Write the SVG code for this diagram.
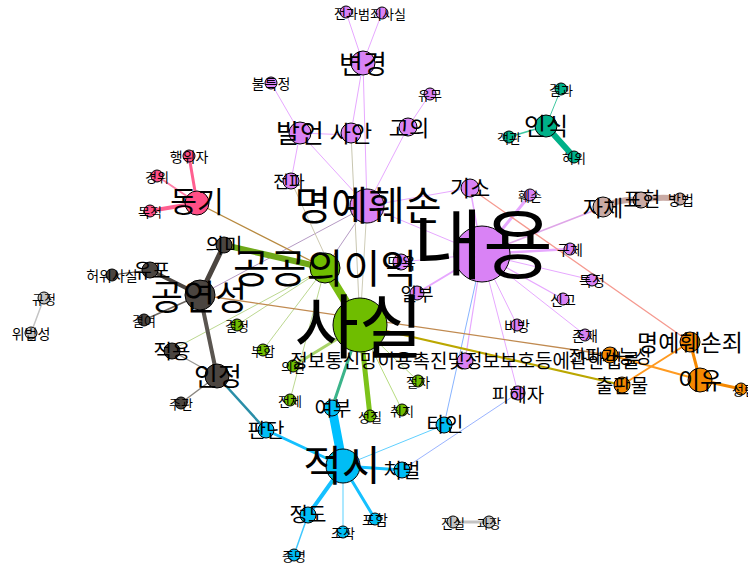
<svg xmlns="http://www.w3.org/2000/svg" width="748" height="566" viewBox="0 0 748 566">
<style>
text{font-family:"Noto Sans CJK KR","Noto Sans",sans-serif;fill:#000;text-anchor:middle;dominant-baseline:central}
circle{stroke:#000;stroke-width:1}
.p{fill:#d982f5}.g{fill:#6fbd00}.c{fill:#00bdf5}.d{fill:#4b4540}.k{fill:#ff4f86}.t{fill:#00b088}.n{fill:#c9aaa4}.o{fill:#f58800}.y{fill:#c4c4c4}
#edges line,#edges path{fill:none;stroke-linecap:round}
.ep{stroke:#e7a8ff}
.s6{font-size:13px}.s7{font-size:14px}
</style>
<rect width="748" height="566" fill="#fff"/>
<g id="edges">
<line class="ep" x1="346" y1="12" x2="363" y2="63" stroke-width="1"/>
<line class="ep" x1="382" y1="13" x2="363" y2="63" stroke-width="1"/>
<line class="ep" x1="363" y1="63" x2="351" y2="133" stroke-width="1"/>
<line class="ep" x1="363" y1="63" x2="367" y2="206" stroke-width="1"/>
<line class="ep" x1="271" y1="83" x2="300" y2="133" stroke-width="1"/>
<line class="ep" x1="430" y1="94" x2="408" y2="127" stroke-width="1"/>
<line class="ep" x1="300" y1="133" x2="351" y2="135" stroke-width="1.2"/>
<line class="ep" x1="300" y1="133" x2="291" y2="181" stroke-width="1"/>
<line class="ep" x1="300" y1="133" x2="367" y2="206" stroke-width="1"/>
<line class="ep" x1="408" y1="127" x2="367" y2="206" stroke-width="1"/>
<line class="ep" x1="367" y1="206" x2="470" y2="188" stroke-width="1"/>
<line class="ep" x1="367" y1="206" x2="482" y2="254" stroke-width="1"/>
<line stroke="#b59ac4" x1="367" y1="206" x2="325" y2="268" stroke-width="1"/>
<line stroke="#b59ac4" x1="367" y1="206" x2="200" y2="295" stroke-width="1"/>
<line stroke="#cfcdb8" x1="367" y1="206" x2="360" y2="325" stroke-width="1"/>
<line stroke="#c8c6b0" x1="351" y1="133" x2="360" y2="325" stroke-width="1"/>
<line stroke="#cdc9b0" x1="291" y1="181" x2="350" y2="310" stroke-width="1"/>
<line class="ep" x1="470" y1="188" x2="482" y2="254" stroke-width="1.5"/>
<line class="ep" x1="530" y1="195" x2="482" y2="254" stroke-width="3"/>
<line stroke="#dfa6e8" x1="482" y1="254" x2="603" y2="207" stroke-width="1.5"/>
<line class="ep" x1="482" y1="254" x2="570" y2="249" stroke-width="2.5"/>
<line class="ep" x1="482" y1="254" x2="592" y2="280" stroke-width="1"/>
<line class="ep" x1="482" y1="254" x2="563" y2="299" stroke-width="1.2"/>
<line class="ep" x1="482" y1="254" x2="585" y2="335" stroke-width="1"/>
<line class="ep" x1="482" y1="254" x2="517" y2="325" stroke-width="1"/>
<line class="ep" x1="482" y1="254" x2="465" y2="361" stroke-width="1.2"/>
<line class="ep" x1="482" y1="254" x2="518" y2="393" stroke-width="1"/>
<line class="ep" x1="482" y1="254" x2="417" y2="293" stroke-width="2"/>
<line class="ep" x1="482" y1="254" x2="401" y2="262" stroke-width="1.2"/>
<line stroke="#88b4ff" x1="482" y1="254" x2="444" y2="425" stroke-width="1"/>
<line stroke="#9ab4ff" x1="518" y1="393" x2="402" y2="470" stroke-width="1"/>
<line stroke="#f59a90" x1="470" y1="188" x2="690" y2="342" stroke-width="1.3"/>
<line stroke="#6fa818" x1="224" y1="245" x2="325" y2="268" stroke-width="6"/>
<line stroke="#b88a40" x1="197" y1="203" x2="325" y2="268" stroke-width="1.3"/>
<line stroke="#79bd10" x1="325" y1="268" x2="360" y2="325" stroke-width="9"/>
<line stroke="#bcd890" x1="325" y1="268" x2="237" y2="325" stroke-width="1"/>
<line stroke="#bcd890" x1="325" y1="268" x2="263" y2="350" stroke-width="1"/>
<line stroke="#bcd890" x1="325" y1="268" x2="172" y2="350" stroke-width="1"/>
<line stroke="#bcd890" x1="325" y1="268" x2="290" y2="400" stroke-width="1"/>
<line stroke="#a9d46a" x1="360" y1="325" x2="293" y2="366" stroke-width="3"/>
<line stroke="#b7dc80" x1="360" y1="325" x2="418" y2="381" stroke-width="1"/>
<line stroke="#b7dc80" x1="360" y1="325" x2="402" y2="410" stroke-width="1"/>
<line stroke="#7cc31a" x1="360" y1="325" x2="370" y2="416" stroke-width="5"/>
<line stroke="#3bb48a" x1="360" y1="325" x2="332" y2="408" stroke-width="3"/>
<line stroke="#bba700" x1="360" y1="325" x2="622" y2="385" stroke-width="2"/>
<line stroke="#c08a50" x1="200" y1="295" x2="610" y2="355" stroke-width="1.3"/>
<line stroke="#4b4540" x1="200" y1="295" x2="224" y2="245" stroke-width="5"/>
<line stroke="#4b4540" x1="200" y1="295" x2="150" y2="270" stroke-width="4"/>
<line stroke="#4b4540" x1="150" y1="270" x2="112" y2="275" stroke-width="1"/>
<line stroke="#6b6660" x1="200" y1="295" x2="144" y2="320" stroke-width="1.5"/>
<line stroke="#5a5550" x1="200" y1="295" x2="217" y2="376" stroke-width="4"/>
<line stroke="#9a9894" x1="217" y1="376" x2="172" y2="351" stroke-width="1.3"/>
<line stroke="#8a8680" x1="217" y1="376" x2="181" y2="403" stroke-width="1.5"/>
<line stroke="#2a8ea8" x1="217" y1="376" x2="266" y2="430" stroke-width="2.5"/>
<line stroke="#00c0ff" x1="343" y1="466" x2="332" y2="408" stroke-width="9"/>
<line stroke="#15c0ff" x1="343" y1="466" x2="266" y2="430" stroke-width="3"/>
<line stroke="#15c0ff" x1="343" y1="466" x2="402" y2="470" stroke-width="3"/>
<line stroke="#60d0ff" x1="343" y1="466" x2="444" y2="425" stroke-width="1"/>
<line stroke="#15c0ff" x1="343" y1="466" x2="308" y2="515" stroke-width="4"/>
<line stroke="#15c0ff" x1="343" y1="466" x2="375" y2="519" stroke-width="3"/>
<line stroke="#8fe0ff" x1="343" y1="466" x2="343" y2="532" stroke-width="1.5"/>
<line stroke="#40c8ff" x1="308" y1="515" x2="294" y2="555" stroke-width="1.5"/>
<line stroke="#ff5f90" x1="197" y1="203" x2="189" y2="156" stroke-width="3"/>
<line stroke="#ff80a8" x1="197" y1="203" x2="157" y2="176" stroke-width="2"/>
<line stroke="#ff5f90" x1="197" y1="203" x2="150" y2="211" stroke-width="4"/>
<line stroke="#40c8a0" x1="546" y1="126" x2="561" y2="89" stroke-width="1"/>
<line stroke="#40c8a0" x1="546" y1="126" x2="509" y2="137" stroke-width="1.5"/>
<line stroke="#00b088" x1="546" y1="126" x2="574" y2="157" stroke-width="6"/>
<path stroke="#c9aaa4" d="M603 207 Q620 198 641 200" stroke-width="6"/>
<path stroke="#c9aaa4" d="M641 200 Q660 196 680 199" stroke-width="6"/>
<line stroke="#f58800" x1="690" y1="342" x2="700" y2="380" stroke-width="3"/>
<line stroke="#ff9a20" x1="690" y1="342" x2="622" y2="385" stroke-width="2"/>
<line stroke="#ff9a20" x1="700" y1="380" x2="610" y2="355" stroke-width="2"/>
<line stroke="#f58800" x1="700" y1="380" x2="741" y2="389" stroke-width="3"/>
<line stroke="#c4c4c4" x1="44" y1="298" x2="31" y2="333" stroke-width="1.5"/>
<line stroke="#c4c4c4" x1="453" y1="522" x2="489" y2="522" stroke-width="3"/>
</g>
<g id="n-jeongwa"><circle class="p" cx="346" cy="12" r="6"/><text class="s6" x="346" y="12">전과</text></g>
<g id="n-beomjoe"><circle class="p" cx="382" cy="13" r="6"/><text class="s6" x="382" y="13">범죄사실</text></g>
<g id="n-bulteuk"><circle class="p" cx="271" cy="83" r="6"/><text class="s7" x="271" y="83">불특정</text></g>
<g id="n-yumu"><circle class="p" cx="430" cy="94" r="6"/><text class="s6" x="430" y="94">유무</text></g>
<g id="n-hwason"><circle class="p" cx="530" cy="195" r="6"/><text class="s6" x="530" y="195">훼손</text></g>
<g id="n-guche"><circle class="p" cx="570" cy="249" r="6"/><text class="s7" x="570" y="249">구체</text></g>
<g id="n-teukjeong"><circle class="p" cx="592" cy="280" r="6"/><text class="s7" x="592" y="280">특정</text></g>
<g id="n-singo"><circle class="p" cx="563" cy="299" r="6"/><text class="s7" x="563" y="299">신고</text></g>
<g id="n-bibang"><circle class="p" cx="517" cy="325" r="6"/><text class="s7" x="517" y="325">비방</text></g>
<g id="n-jonjae"><circle class="p" cx="585" cy="335" r="6"/><text class="s7" x="585" y="335">존재</text></g>
<g id="n-moyok"><circle class="p" cx="401" cy="262" r="8"/><text x="401" y="262" font-size="16">모욕</text></g>
<g id="n-ilbu"><circle class="p" cx="417" cy="293" r="7"/><text x="417" y="293" font-size="18">일부</text></g>
<g id="n-pihaeja"><circle class="p" cx="518" cy="393" r="7"/><text x="518" y="393" font-size="19">피해자</text></g>
<g id="n-gyeoljeong"><circle class="g" cx="237" cy="325" r="6"/><text class="s6" x="237" y="325">결정</text></g>
<g id="n-buhap"><circle class="g" cx="263" cy="350" r="6"/><text class="s6" x="263" y="350">부합</text></g>
<g id="n-uigyeon"><circle class="g" cx="293" cy="366" r="6"/><text class="s6" x="293" y="366">의견</text></g>
<g id="n-jeonche"><circle class="g" cx="290" cy="400" r="6"/><text class="s6" x="290" y="400">전체</text></g>
<g id="n-jeolcha"><circle class="g" cx="418" cy="381" r="6"/><text class="s6" x="418" y="381">절차</text></g>
<g id="n-chwiji"><circle class="g" cx="402" cy="410" r="6"/><text class="s6" x="402" y="410">취지</text></g>
<g id="n-seongjil"><circle class="g" cx="370" cy="416" r="6"/><text class="s6" x="370" y="416">성질</text></g>
<g id="n-poham"><circle class="c" cx="375" cy="519" r="6"/><text class="s7" x="375" y="519">포함</text></g>
<g id="n-jojak"><circle class="c" cx="343" cy="532" r="6"/><text class="s6" x="343" y="532">조작</text></g>
<g id="n-jeungmyeong"><circle class="c" cx="294" cy="555" r="6"/><text class="s6" x="294" y="555">증명</text></g>
<g id="n-heowisasil"><circle class="d" cx="112" cy="275" r="6"/><text class="s7" x="112" y="275">허위사실</text></g>
<g id="n-gyeolyeo"><circle class="d" cx="144" cy="320" r="6"/><text class="s6" x="144" y="320">결여</text></g>
<g id="n-jugwan"><circle class="d" cx="181" cy="403" r="6"/><text class="s6" x="181" y="403">주관</text></g>
<g id="n-haengwija"><circle class="k" cx="189" cy="156" r="6"/><text class="s7" x="189" y="156">행위자</text></g>
<g id="n-gyeongwi"><circle class="k" cx="157" cy="176" r="6"/><text class="s6" x="157" y="176">경위</text></g>
<g id="n-mokjeok"><circle class="k" cx="150" cy="211" r="6"/><text class="s6" x="150" y="211">목적</text></g>
<g id="n-gyeolgwa"><circle class="t" cx="561" cy="89" r="6"/><text class="s6" x="561" y="89">결과</text></g>
<g id="n-gaekgwan"><circle class="t" cx="509" cy="137" r="6"/><text class="s6" x="509" y="137">객관</text></g>
<g id="n-heowi"><circle class="t" cx="574" cy="157" r="6"/><text class="s6" x="574" y="157">허위</text></g>
<g id="n-bangbeop"><circle class="n" cx="680" cy="199" r="6"/><text class="s7" x="681" y="199">방법</text></g>
<g id="n-seongrip"><circle class="o" cx="741" cy="389" r="6"/><text class="s6" x="744" y="389">성립</text></g>
<g id="n-gyujeong"><circle class="y" cx="44" cy="298" r="6"/><text class="s6" x="44" y="298">규정</text></g>
<g id="n-wibeop"><circle class="y" cx="31" cy="333" r="6"/><text class="s7" x="31" y="333">위법성</text></g>
<g id="n-jinsil"><circle class="y" cx="453" cy="522" r="6"/><text class="s6" x="453" y="522">진실</text></g>
<g id="n-gwajang"><circle class="y" cx="489" cy="522" r="6"/><text class="s6" x="489" y="522">과장</text></g>
<g id="n-jeonpa"><circle class="p" cx="291" cy="181" r="8"/><text x="289" y="180" font-size="17">전파</text></g>
<g id="n-yeobu"><circle class="c" cx="332" cy="408" r="8"/><text x="333" y="407" font-size="20">여부</text></g>
<g id="n-pandan"><circle class="c" cx="266" cy="430" r="8"/><text x="266" y="429" font-size="20">판단</text></g>
<g id="n-tain"><circle class="c" cx="444" cy="425" r="8"/><text x="445" y="423" font-size="20">타인</text></g>
<g id="n-cheobeol"><circle class="c" cx="402" cy="470" r="8"/><text x="402" y="469" font-size="20">처벌</text></g>
<g id="n-jeongdo"><circle class="c" cx="308" cy="515" r="8"/><text x="308" y="513" font-size="20">정도</text></g>
<g id="n-uimi"><circle class="d" cx="224" cy="245" r="8"/><text x="224" y="244" font-size="20">의미</text></g>
<g id="n-yupo"><circle class="d" cx="150" cy="270" r="8"/><text x="152" y="269" font-size="20">유포</text></g>
<g id="n-jeogyong"><circle class="d" cx="172" cy="351" r="8"/><text x="172" y="350" font-size="20">적용</text></g>
<g id="n-pyohyeon"><circle class="n" cx="641" cy="200" r="8"/><text x="642" y="198" font-size="20">표현</text></g>
<g id="n-jache"><circle class="n" cx="603" cy="207" r="10"/><text x="603" y="206" font-size="22">자체</text></g>
<g id="n-jeonpagn"><circle class="o" cx="610" cy="355" r="8"/><text x="610" y="355" font-size="18">전파가능성</text></g>
<g id="n-chulpan"><circle class="o" cx="622" cy="385" r="8"/><text x="622" y="384" font-size="19">출판물</text></g>
<g id="n-jeongbo"><circle class="p" cx="465" cy="361" r="8"/><text x="465" y="359" font-size="19">정보통신망이용촉진및정보보호등에관한법률</text></g>
<g id="n-giso"><circle class="p" cx="470" cy="188" r="9"/><text x="470" y="186" font-size="22">기소</text></g>
<g id="n-gouui"><circle class="p" cx="408" cy="127" r="9"/><text x="409" y="126" font-size="22">고의</text></g>
<g id="n-saan"><circle class="p" cx="351" cy="133" r="10"/><text x="351" y="132" font-size="23">사안</text></g>
<g id="n-bareon"><circle class="p" cx="300" cy="133" r="11"/><text x="300" y="131" font-size="26">발언</text></g>
<g id="n-byeongyeong"><circle class="p" cx="363" cy="63" r="12"/><text x="363" y="62" font-size="26">변경</text></g>
<g id="n-insik"><circle class="t" cx="546" cy="126" r="11"/><text x="546" y="124" font-size="24">인식</text></g>
<g id="n-myeongjoe"><circle class="o" cx="690" cy="342" r="10"/><text x="690" y="341" font-size="23">명예훼손죄</text></g>
<g id="n-iyu"><circle class="o" cx="700" cy="380" r="12"/><text x="700" y="378" font-size="24">이유</text></g>
<g id="n-dongi"><circle class="k" cx="197" cy="203" r="12"/><text x="197" y="200" font-size="29">동기</text></g>
<g id="n-injeong"><circle class="d" cx="217" cy="376" r="12"/><text x="218" y="374" font-size="26">인정</text></g>
<g id="n-gongyeon"><circle class="d" cx="200" cy="295" r="15"/><text x="199" y="294" font-size="35">공연성</text></g>
<g id="n-gonggong"><circle class="g" cx="325" cy="268" r="15"/><text x="325" y="266" font-size="40">공공의이익</text></g>
<g id="n-myeongye"><circle class="p" cx="367" cy="206" r="17"/><text x="368" y="203" font-size="40">명예훼손</text></g>
<g id="n-jeoksi"><circle class="c" cx="343" cy="466" r="17"/><text x="342" y="462" font-size="42">적시</text></g>
<g id="n-sasil"><circle class="g" cx="360" cy="325" r="27"/><text x="359" y="322" font-size="70">사실</text></g>
<g id="n-naeyong"><circle class="p" cx="482" cy="254" r="28"/><text x="483" y="240" font-size="76">내용</text></g>
</svg>
